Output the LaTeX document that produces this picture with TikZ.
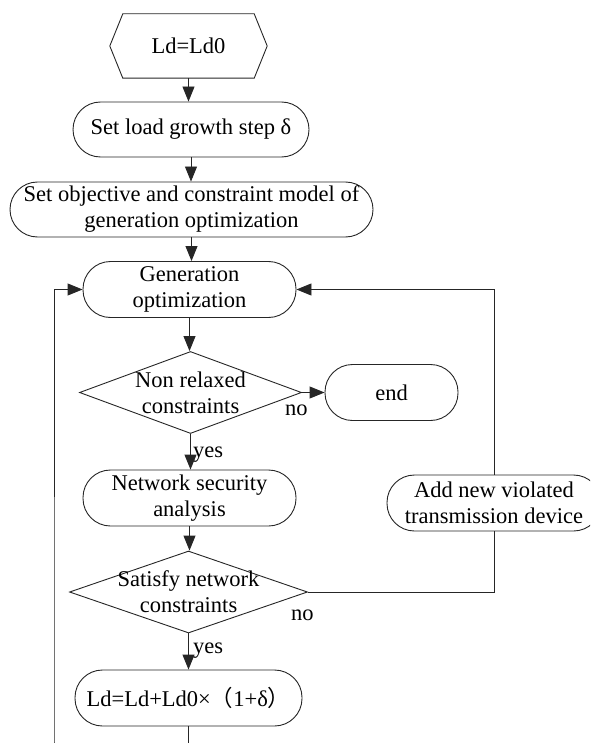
\documentclass[tikz,border=0pt]{standalone}
\usepackage{fontspec}
\setmainfont{Liberation Serif}
\newfontfamily\cjk{Noto Sans CJK SC}
\usetikzlibrary{arrows.meta,shapes.geometric}
\begin{document}
\begin{tikzpicture}[x=1pt,y=-1pt,
  font=\fontsize{22.5}{26}\selectfont,
  line/.style={draw=black!85, line width=0.9pt},
  arr/.style={line, -{Triangle[length=15pt,width=12pt]}},
  stadium/.style={line, rounded corners=27.5pt, align=center, inner sep=0pt, fill=white},
  dmd/.style={line, diamond, inner sep=0pt, fill=white},
  txt/.style={align=center, inner sep=0pt},
  lbl/.style={inner sep=0pt}]
\useasboundingbox (0,0) rectangle (590,743);
\clip (0,0) rectangle (590,743);

% start hexagon
\node[txt, minimum width=157pt, minimum height=64pt] (hex) at (188.5,46) {Ld=Ld0};
\draw[line] (hex.west) -- ([xshift=13pt]hex.north west) -- ([xshift=-13pt]hex.north east)
  -- (hex.east) -- ([xshift=-13pt]hex.south east) -- ([xshift=13pt]hex.south west) -- cycle;

\node[stadium, minimum width=236pt, minimum height=55pt] (b1) at (191,129.5) {Set load growth step δ};
\node[stadium, minimum width=363pt, minimum height=55pt] (b2) at (191.5,209.5)
  {Set objective and constraint model of\\generation optimization};
\node[stadium, minimum width=213pt, minimum height=56pt] (gen) at (189.5,289.5)
  {Generation\\optimization};

\node[dmd, minimum width=222pt, minimum height=82pt] (d1) at (190.5,392.5) {};
\node[txt] (d1t) at (d1.center) {Non relaxed\\constraints};
\node[stadium, minimum width=133pt, minimum height=56pt] (endn) at (391.5,392.5) {end};

\node[stadium, minimum width=213pt, minimum height=56pt] (net) at (189.5,498)
  {Network security\\analysis};
\node[stadium, minimum width=214pt, minimum height=56pt] (add) at (494,503)
  {Add new violated\\transmission device};

\node[dmd, minimum width=238pt, minimum height=82pt] (d2) at (188.5,592) {};
\node[txt] (d2t) at (d2.center) {Satisfy network\\constraints};

\node[stadium, minimum width=227pt, minimum height=56pt] (ld) at (188.5,698)
  {Ld=Ld+Ld0×{\cjk （}1+δ{\cjk ）}};

% labels
\node[lbl, anchor=base west] (no1) at (285,415) {no};
\node[lbl, anchor=base west] (yes1) at (193,457) {yes};
\node[lbl, anchor=base west] (no2) at (291,620) {no};
\node[lbl, anchor=base west] (yes2) at (193,653) {yes};

% connectors
\draw[arr] (hex.south) -- (hex.south |- b1.north);
\draw[arr] (b1.south) -- (b1.south |- b2.north);
\draw[arr] (b2.south) -- (b2.south |- gen.north);
\draw[arr] (gen.south) -- (gen.south |- d1.north);
\draw[arr] (d1.east) -- (endn.west);
\draw[arr] (d1.south) -- (d1.south |- net.north);
\draw[arr] (net.south) -- (net.south |- d2.north);
\draw[arr] (d2.south) -- (d2.south |- ld.north);
\draw[line] (d2.east) -| (add.south);
\draw[arr] (add.north) |- (gen.east);
\draw[arr] (ld.south) -- ++(0,60) -| (54,700) |- (gen.west);
\end{tikzpicture}
\end{document}
